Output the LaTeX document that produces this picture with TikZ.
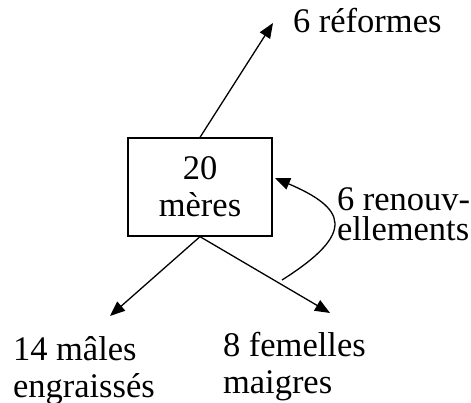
\documentclass[tikz,border=0pt]{standalone}
\usepackage{fontspec}
\setmainfont{Liberation Serif}
\usetikzlibrary{arrows.meta}
\begin{document}
\begin{tikzpicture}[x=1pt,y=-1pt,
  lbl/.style={inner sep=0pt,outer sep=0pt,align=left,font=\fontsize{34.5}{37}\selectfont},
  flow/.style={line width=1.3pt,-{Triangle[length=15pt,width=12pt]}},
  boxn/.style={draw,line width=1.3pt,minimum width=144pt,minimum height=98pt,inner sep=0pt,align=center,font=\fontsize{34.5}{37}\selectfont}]
\useasboundingbox (0,0) rectangle (471,403);
\node[boxn] (box) at (200,187) {20\\mères};
\node[lbl,anchor=base west] (ref) at (293,33) {6 réformes};
\node[lbl,anchor=base west] (male) at (13,397) {14 mâles\\engraissés};
\node[lbl,anchor=base west] (fem) at (223,393) {8 femelles\\maigres};
\node[lbl,anchor=base west,font=\fontsize{34.5}{30}\selectfont] (ren) at (337,241) {6 renouv-\\ellements};
\coordinate (tref) at (273,23);
\coordinate (tmale) at (110,316);
\coordinate (tfem) at (330,313);
\coordinate (r0) at (282,280);
\coordinate (r1) at (275,178);
\draw[flow] (box.north) -- (tref);
\draw[flow] (box.south) -- (tmale);
\draw[flow] (box.south) -- (tfem);
\draw[flow] (r0) .. controls (358,232) and (345,208) .. (r1);
\end{tikzpicture}
\end{document}
